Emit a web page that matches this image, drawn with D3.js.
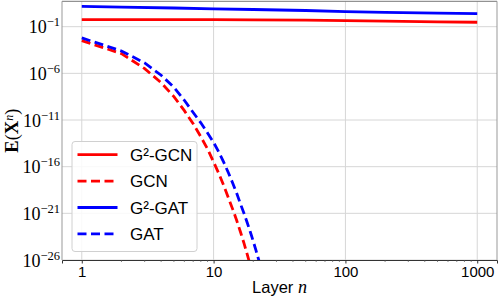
<!DOCTYPE html>
<html lang="en">
<head>
  <meta charset="UTF-8">
  <title>Energy vs layer</title>
  <script src="https://d3js.org/d3.v7.min.js"></script>
  <style>
    body { margin: 0; background: #fff; }
    .grid line { stroke: #d6d6d6; stroke-width: 1; }
    .serif { font-family: "Liberation Serif", "DejaVu Serif", serif; }
    .sans { font-family: "Liberation Sans", Arial, sans-serif; }
  </style>
</head>
<body>
  <div id="chart"></div>

  <script>
    // layers used for the deep (exploding / vanishing) curves
    const layersShort = [1, 2, 3, 4, 5, 6, 7, 8, 9, 10, 11, 12, 13, 14, 15, 16, 17, 18, 19, 20, 21, 22, 23, 24];
    // layers used for the flat curves
    const layersLong = [1, 2, 5, 10, 20, 50, 100, 200, 500, 1000];

    // values
    const g2gcn = [0.56, 0.56, 0.56, 0.56, 0.55, 0.50, 0.44, 0.39, 0.33, 0.30];
    const g2gat = [15.1, 12.6, 10.0, 8.3, 6.9, 5.4, 4.1, 3.5, 2.8, 2.5];
    const gcn = [3.2e-3, 1.3e-4, 3.2e-6, 1.0e-7, 3.2e-9, 1.0e-10, 4.0e-12, 1.6e-13, 7.9e-15, 3.2e-16,
                 1.6e-17, 7.9e-19, 4.0e-20, 2.5e-21, 1.6e-22, 1.0e-23, 6.3e-25, 4.0e-26, 2.5e-27, 1.6e-28,
                 1.0e-29, 6.3e-31, 4.0e-32, 2.5e-33];
    const gat = [6.3e-3, 2.5e-4, 1.3e-5, 6.3e-7, 3.2e-8, 1.3e-9, 6.3e-11, 5.0e-12, 4.0e-13, 4.0e-14,
                 3.2e-15, 2.5e-16, 2.0e-17, 1.6e-18, 1.3e-19, 1.0e-20, 1.0e-21, 1.0e-22, 1.0e-23, 1.0e-24,
                 1.0e-25, 1.0e-26, 1.0e-27, 1.0e-28];

    const xTicks = [1, 10, 100, 1000];
    const yTickExp = [-1, -6, -11, -16, -21, -26];

    const series = [
      { name: "G²-GCN", xs: layersLong, ys: g2gcn, color: "#ff0000", dashed: false },
      { name: "GCN", xs: layersShort, ys: gcn, color: "#ff0000", dashed: true },
      { name: "G²-GAT", xs: layersLong, ys: g2gat, color: "#0000ff", dashed: false },
      { name: "GAT", xs: layersShort, ys: gat, color: "#0000ff", dashed: true }
    ];

    const W = 498, H = 296;
    const plot = { left: 62, right: 497, top: 1.3, bottom: 260 };

    const svg = d3.select("#chart").append("svg")
      .attr("width", W)
      .attr("height", H);

    const x = d3.scaleLog()
      .domain([Math.pow(10, -0.15), Math.pow(10, 3.15)])
      .range([plot.left, plot.right]);
    const y = d3.scaleLog()
      .domain([1e-26, Math.pow(10, 1.72)])
      .range([plot.bottom, plot.top]);

    // grid
    const grid = svg.append("g").attr("class", "grid");
    grid.selectAll(".gx").data(xTicks).enter().append("line")
      .attr("x1", d => x(d)).attr("x2", d => x(d))
      .attr("y1", plot.top).attr("y2", plot.bottom);
    grid.selectAll(".gy").data(yTickExp).enter().append("line")
      .attr("x1", plot.left).attr("x2", plot.right)
      .attr("y1", d => y(Math.pow(10, d))).attr("y2", d => y(Math.pow(10, d)));

    // clip for the curves
    svg.append("clipPath").attr("id", "clip")
      .append("rect")
      .attr("x", plot.left).attr("y", plot.top)
      .attr("width", plot.right - plot.left)
      .attr("height", plot.bottom - plot.top);

    const line = d3.line()
      .x(d => x(d[0]))
      .y(d => y(d[1]));

    svg.append("g").attr("clip-path", "url(#clip)")
      .selectAll("path").data(series).enter().append("path")
      .attr("d", s => line(s.xs.map((n, i) => [n, s.ys[i]])))
      .attr("fill", "none")
      .attr("stroke", s => s.color)
      .attr("stroke-width", 2.8)
      .attr("stroke-dasharray", s => s.dashed ? "9,4.5" : null);

    // spines
    svg.append("line").attr("x1", plot.left).attr("x2", plot.right)
      .attr("y1", plot.top).attr("y2", plot.top).attr("stroke", "#777").attr("stroke-width", 1);
    svg.append("line").attr("x1", plot.right).attr("x2", plot.right)
      .attr("y1", plot.top).attr("y2", plot.bottom).attr("stroke", "#999").attr("stroke-width", 1);

    // x axis
    const xAxis = svg.append("g")
      .attr("transform", `translate(0,${plot.bottom})`)
      .call(d3.axisBottom(x).tickValues(xTicks).tickSize(3.5).tickFormat(d3.format("d")));
    xAxis.select(".domain").attr("stroke", "#333");
    xAxis.selectAll(".tick line").attr("stroke", "#333");
    xAxis.selectAll(".tick text")
      .attr("class", "sans")
      .attr("font-size", 15)
      .attr("fill", "#000")
      .attr("y", 0)
      .attr("dy", 16.5);

    // minor x ticks
    const minor = [];
    [1, 10, 100].forEach(b => { for (let k = 2; k <= 9; k++) minor.push(b * k); });
    svg.append("g").selectAll("line").data(minor).enter().append("line")
      .attr("x1", d => x(d)).attr("x2", d => x(d))
      .attr("y1", plot.bottom).attr("y2", plot.bottom + 2)
      .attr("stroke", "#555").attr("stroke-width", 0.7);

    // y axis
    svg.append("line").attr("x1", plot.left).attr("x2", plot.left)
      .attr("y1", plot.top).attr("y2", plot.bottom).attr("stroke", "#999").attr("stroke-width", 1);
    const yLab = svg.append("g").selectAll("text").data(yTickExp).enter().append("text")
      .attr("class", "serif")
      .attr("text-anchor", "end")
      .attr("x", 60)
      .attr("y", d => y(Math.pow(10, d)) + 6.5)
      .attr("font-size", 18)
      .attr("fill", "#000");
    yLab.append("tspan").text("10");
    yLab.append("tspan")
      .attr("font-size", 12.5)
      .attr("dy", -7)
      .text(d => "−" + Math.abs(d));

    // axis titles
    const xt = svg.append("text")
      .attr("x", (plot.left + plot.right) / 2)
      .attr("y", 293)
      .attr("text-anchor", "middle")
      .attr("font-size", 16.5)
      .attr("fill", "#000");
    xt.append("tspan").attr("class", "sans").text("Layer ");
    xt.append("tspan").attr("class", "serif").attr("font-style", "italic").attr("font-size", 18).text("n");

    const yt = svg.append("text")
      .attr("class", "serif")
      .attr("transform", `translate(18,${(plot.top + plot.bottom) / 2}) rotate(-90)`)
      .attr("text-anchor", "middle")
      .attr("font-size", 18.5)
      .attr("fill", "#000");
    yt.append("tspan").attr("font-weight", "bold").text("E");
    yt.append("tspan").text("(");
    yt.append("tspan").attr("font-weight", "bold").text("X");
    yt.append("tspan").attr("font-style", "italic").attr("font-size", 12).attr("dy", -5.5).text("n");
    yt.append("tspan").attr("dy", 5.5).text(")");

    // legend
    const lg = svg.append("g").attr("transform", "translate(72,141.5)");
    lg.append("rect")
      .attr("width", 125).attr("height", 110)
      .attr("rx", 3)
      .attr("fill", "#fff").attr("fill-opacity", 0.85)
      .attr("stroke", "#d0d0d0");
    const rows = lg.selectAll(".row").data(series).enter().append("g")
      .attr("transform", (d, i) => `translate(0,${13.2 + i * 26.4})`);
    rows.append("line")
      .attr("x1", 5.5).attr("x2", 45.5)
      .attr("stroke", d => d.color)
      .attr("stroke-width", 2.8)
      .attr("stroke-dasharray", d => d.dashed ? "9,4.5" : null);
    rows.append("text")
      .attr("class", "sans")
      .attr("x", 58)
      .attr("y", 6)
      .attr("font-size", 17)
      .attr("fill", "#000")
      .text(d => d.name);
  </script>
</body>
</html>
